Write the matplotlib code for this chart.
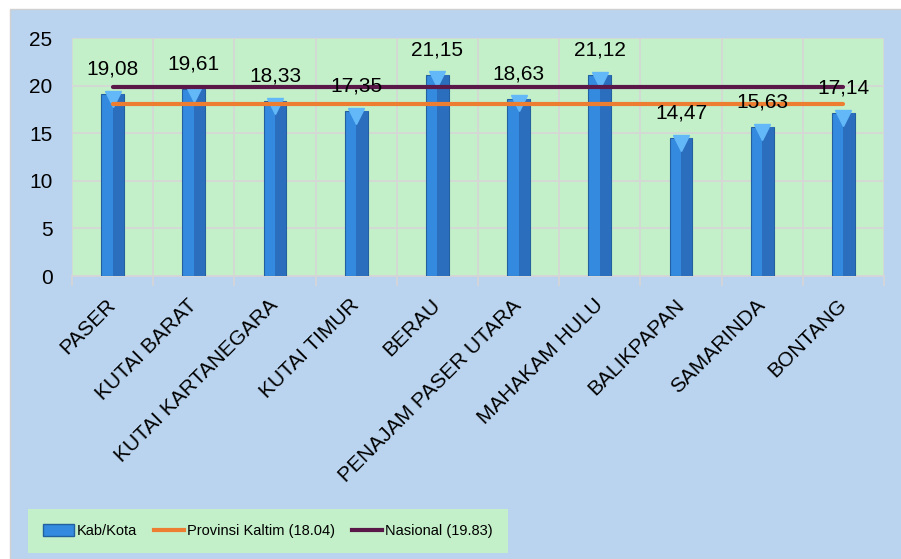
import numpy as np
import matplotlib
matplotlib.use("Agg")
import matplotlib.pyplot as plt
from matplotlib.patches import Rectangle, Patch
from matplotlib.lines import Line2D

# data
regions = ["PASER", "KUTAI BARAT", "KUTAI KARTANEGARA", "KUTAI TIMUR", "BERAU",
           "PENAJAM PASER UTARA", "MAHAKAM HULU", "BALIKPAPAN", "SAMARINDA", "BONTANG"]
kab_kota = [19.08, 19.61, 18.33, 17.35, 21.15, 18.63, 21.12, 14.47, 15.63, 17.14]
provinsi_kaltim = 18.04
nasional = 19.83
y_ticks = [0, 5, 10, 15, 20, 25]

plt.rcParams['font.family'] = ['Liberation Sans', 'DejaVu Sans']

fig = plt.figure(figsize=(9.01, 5.59), dpi=100)
fig.patch.set_facecolor('white')
# light blue chart area with a white margin on the top and left
fig.patches.append(Rectangle((10 / 901, 0), 1, 1 - 9 / 559, transform=fig.transFigure,
                             facecolor='#BAD4EF', edgecolor='#D0D0D0', lw=1, zorder=-5))

ax = fig.add_axes([72 / 901, 1 - 276 / 559, 812 / 901, 238 / 559])
ax.set_facecolor('#C3F0C8')

x = np.arange(len(regions))
w = 0.28

# bars with a darker right half and a light top bevel
ax.bar(x, kab_kota, width=w, color='#338ADF', edgecolor='#22609F', lw=0.8, zorder=3)
ax.bar(x + w / 4, kab_kota, width=w / 2, color='#2A6EBD', lw=0, zorder=3)
ax.plot(x, np.array(kab_kota) - 0.5, 'v', color='#63B8F8', markersize=12, zorder=4)

ax.plot([x[0], x[-1]], [provinsi_kaltim] * 2, color='#ED7D31', lw=3, zorder=5,
        solid_capstyle='round')
ax.plot([x[0], x[-1]], [nasional] * 2, color='#5A1848', lw=3, zorder=5,
        solid_capstyle='round')

for xi, v in zip(x, kab_kota):
    ax.annotate(f"{v:.2f}".replace('.', ','), (xi, v), xytext=(0, 18),
                textcoords='offset points', ha='center', va='center',
                fontsize=15, zorder=6)

ax.set_xlim(-0.5, len(regions) - 0.5)
ax.set_ylim(0, 25)
ax.set_yticks(y_ticks)
ax.tick_params(axis='y', length=0, pad=14, labelsize=15)

ax.set_xticks(x)
ax.set_xticklabels(regions, rotation=45, ha='right', va='center', rotation_mode='anchor',
                   fontsize=15)
ax.tick_params(axis='x', which='major', length=0, pad=19)
ax.set_xticks(np.arange(-0.5, len(regions)), minor=True)
ax.tick_params(axis='x', which='minor', length=7, width=1.2, color='#D6D6D6')

ax.grid(axis='y', color='#D6D6D6', lw=1.2, zorder=1)
ax.grid(axis='x', which='minor', color='#D6D6D6', lw=1.2, zorder=1)
for side in ['top', 'right', 'left']:
    ax.spines[side].set_visible(False)
ax.spines['bottom'].set_color('#D6D6D6')
ax.spines['bottom'].set_linewidth(1.2)

handles = [Patch(facecolor='#338ADF', edgecolor='#22609F'),
           Line2D([0], [0], color='#ED7D31', lw=3),
           Line2D([0], [0], color='#5A1848', lw=3)]
labels = ["Kab/Kota", "Provinsi Kaltim (18.04)", "Nasional (19.83)"]
leg = fig.legend(handles, labels, loc='center', bbox_to_anchor=(268 / 901, 1 - 531 / 559),
                 ncol=3, frameon=True, fancybox=False, fontsize=10.5, handlelength=2.1,
                 handleheight=0.9, handletextpad=0.2, columnspacing=1.15, borderpad=1.0)
leg.get_frame().set_facecolor('#C3F0C8')
leg.get_frame().set_edgecolor('none')
leg.get_frame().set_alpha(1)

fig.savefig('out.png', dpi=100)
